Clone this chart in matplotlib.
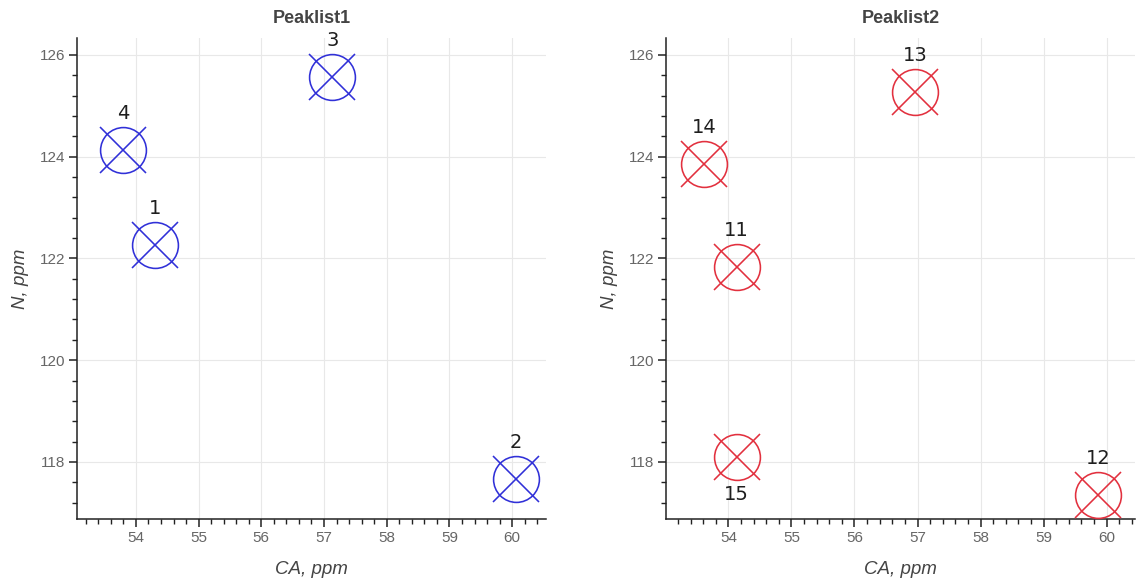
import matplotlib
matplotlib.use("Agg")
import matplotlib.pyplot as plt
from matplotlib.ticker import MultipleLocator

# peak lists: id, CA shift, N shift
pl1_ids = [1, 2, 3, 4]
pl1_ca = [54.30, 60.06, 57.13, 53.79]
pl1_n = [122.27, 117.67, 125.57, 124.13]

pl2_ids = [11, 12, 13, 14, 15]
pl2_ca = [54.13, 59.86, 56.96, 53.62, 54.13]
pl2_n = [121.83, 117.35, 125.27, 123.86, 118.10]
pl2_side = ['above', 'above', 'above', 'above', 'below']

titles = ['Peaklist1', 'Peaklist2']

fig = plt.figure(figsize=(11.39, 5.82), dpi=100)

W, H = 1139, 582
def px_axes(x0, x1, y0, y1):
    return fig.add_axes([x0 / W, 1 - y1 / H, (x1 - x0) / W, (y1 - y0) / H])

ax1 = px_axes(77, 546, 38, 519)
ax2 = px_axes(666, 1135, 38, 519)

panels = [
    (ax1, pl1_ids, pl1_ca, pl1_n, ['above'] * len(pl1_ids), '#3030d8', (53.06, 60.54)),
    (ax2, pl2_ids, pl2_ca, pl2_n, pl2_side, '#e2303e', (53.01, 60.45)),
]

for (ax, ids, ca, n, side, color, xlim), title in zip(panels, titles):
    ax.plot(ca, n, linestyle='none', marker='o', ms=33, mfc='none',
            mec=color, mew=1.15, zorder=3)
    ax.plot(ca, n, linestyle='none', marker='x', ms=33,
            mec=color, mew=1.15, zorder=3)
    for i, x, y, s in zip(ids, ca, n, side):
        dy = 26 if s == 'above' else -27
        ax.annotate(str(i), (x, y), xytext=(0, dy), textcoords='offset points',
                    ha='center', va='center', fontsize=14, color='#1e1e1e',
                    family='DejaVu Sans')

    ax.set_xlim(*xlim)
    ax.set_ylim(116.88, 126.33)
    ax.xaxis.set_major_locator(MultipleLocator(1))
    ax.xaxis.set_minor_locator(MultipleLocator(0.2))
    ax.yaxis.set_major_locator(MultipleLocator(2))
    ax.yaxis.set_minor_locator(MultipleLocator(0.4))

    ax.grid(True, which='major', color='#e8e8e8', linewidth=0.8, zorder=0)
    ax.set_axisbelow(True)
    for sp in ['top', 'right']:
        ax.spines[sp].set_visible(False)
    for sp in ['left', 'bottom']:
        ax.spines[sp].set_linewidth(1.1)
        ax.spines[sp].set_color('#222222')

    ax.tick_params(which='major', direction='out', length=5.5, width=1.1,
                   color='#222222', labelsize=11, labelcolor='#666666', pad=3)
    ax.tick_params(which='minor', direction='out', length=3.5, width=1.0,
                   color='#222222')
    for lab in ax.get_xticklabels() + ax.get_yticklabels():
        lab.set_family('Liberation Sans')

    ax.set_title(title, fontsize=13, fontweight='bold', color='#444444',
                 family='Liberation Sans', pad=11)
    ax.set_xlabel('CA, ppm', fontsize=13.5, style='italic', color='#444444',
                  family='Liberation Sans', labelpad=12)
    ax.set_ylabel('N, ppm', fontsize=13.5, style='italic', color='#444444',
                  family='Liberation Sans', labelpad=8)

fig.savefig('out.png', dpi=100)
